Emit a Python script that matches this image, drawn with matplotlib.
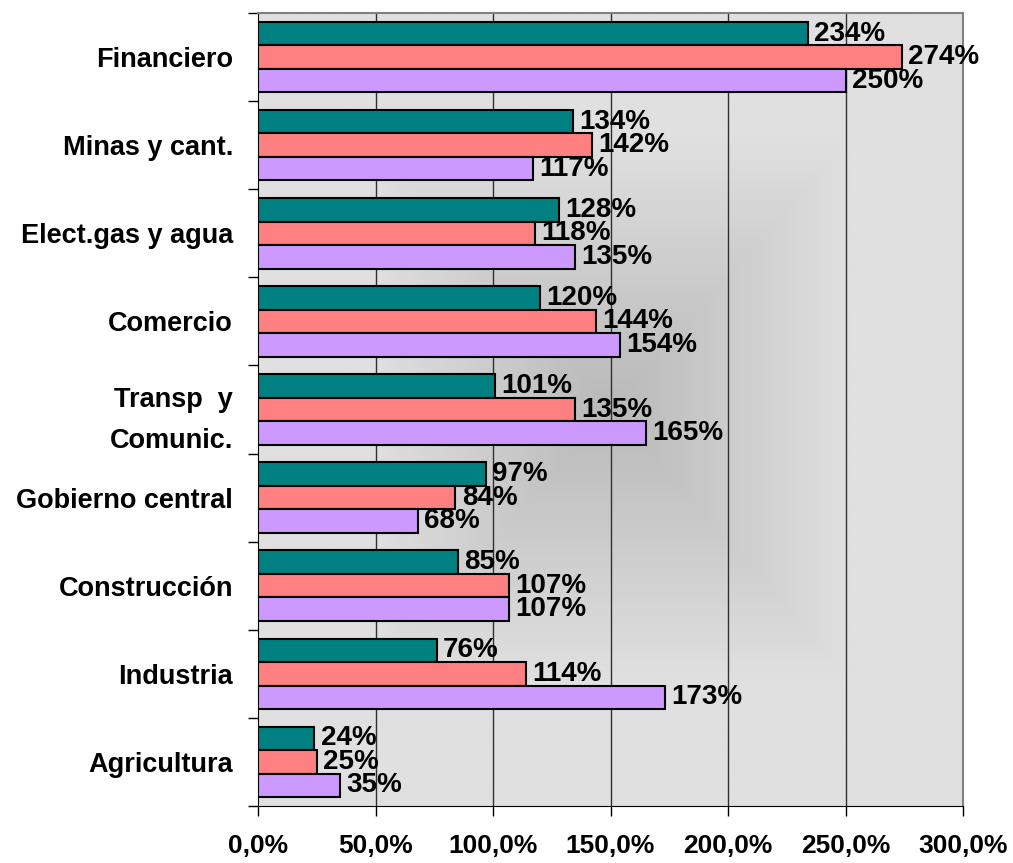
import numpy as np
import matplotlib
matplotlib.use("Agg")
import matplotlib.pyplot as plt

categories = ["Financiero", "Minas y cant.", "Elect.gas y agua", "Comercio",
              "Transp  y\nComunic.", "Gobierno central", "Construcción",
              "Industria", "Agricultura"]
serie_1 = [234, 134, 128, 120, 101, 97, 85, 76, 24]
serie_2 = [274, 142, 118, 144, 135, 84, 107, 114, 25]
serie_3 = [250, 117, 135, 154, 165, 68, 107, 173, 35]
x_ticks = [0, 50, 100, 150, 200, 250, 300]
x_tick_labels = ["0,0%", "50,0%", "100,0%", "150,0%", "200,0%", "250,0%", "300,0%"]

colors = ["#008080", "#FF8080", "#CC99FF"]

plt.rcParams['font.family'] = ['Liberation Sans', 'DejaVu Sans']
plt.rcParams['font.weight'] = 'bold'

fig = plt.figure(figsize=(10.13, 8.63), dpi=100)
ax = fig.add_axes([258/1013, 1 - 806/863, (963-258)/1013, (806-13)/863])

# background gradient (rectangular "from center")
ny, nx = 400, 400
yy, xx = np.mgrid[-1:1:ny*1j, -1:1:nx*1j]
t = np.maximum(np.abs(xx), np.abs(yy))
g = np.minimum(224, 185 + 57 * t) / 255.0
img = np.dstack([g, g, g])
ax.imshow(img, extent=[0, 1, 0, 1], transform=ax.transAxes, aspect='auto',
          zorder=0, interpolation='bilinear')

n = len(categories)
ypos = np.arange(n)[::-1]  # first category on top
h = 0.8 / 3
series = [serie_1, serie_2, serie_3]
for k, (vals, c) in enumerate(zip(series, colors)):
    yk = ypos + h * (1 - k)
    ax.barh(yk, vals, height=h, color=c, edgecolor='black', linewidth=1.5, zorder=3)
    for yv, v in zip(yk, vals):
        ax.annotate(f"{v}%", xy=(v, yv), xytext=(4.5, 0), textcoords='offset points',
                    ha='left', va='center', fontsize=20, fontweight='bold', zorder=4)

ax.set_xlim(0, 300)
ax.set_ylim(-0.5, n - 0.5)
ax.set_xticks(x_ticks)
ax.set_xticklabels(x_tick_labels, fontsize=19, fontweight='bold')
ax.tick_params(axis='x', length=7, width=1, pad=13, direction='out')

ax.set_yticks(ypos)
ax.set_yticklabels(categories, fontsize=19.5, fontweight='bold')
for lab in ax.get_yticklabels():
    lab.set_linespacing(1.75)
ax.tick_params(axis='y', which='major', length=0, pad=18)
ax.set_yticks(np.arange(-0.5, n, 1.0), minor=True)
ax.tick_params(axis='y', which='minor', length=7, width=1, direction='out')

for xv in x_ticks[1:-1]:
    ax.axvline(xv, color='#303030', linewidth=1, zorder=1)

ax.spines['top'].set_color('#808080')
ax.spines['right'].set_color('#808080')
ax.spines['top'].set_linewidth(1.5)
ax.spines['right'].set_linewidth(1.5)
ax.spines['left'].set_color('black')
ax.spines['bottom'].set_color('black')

fig.savefig("out.png", dpi=100, facecolor='white')
